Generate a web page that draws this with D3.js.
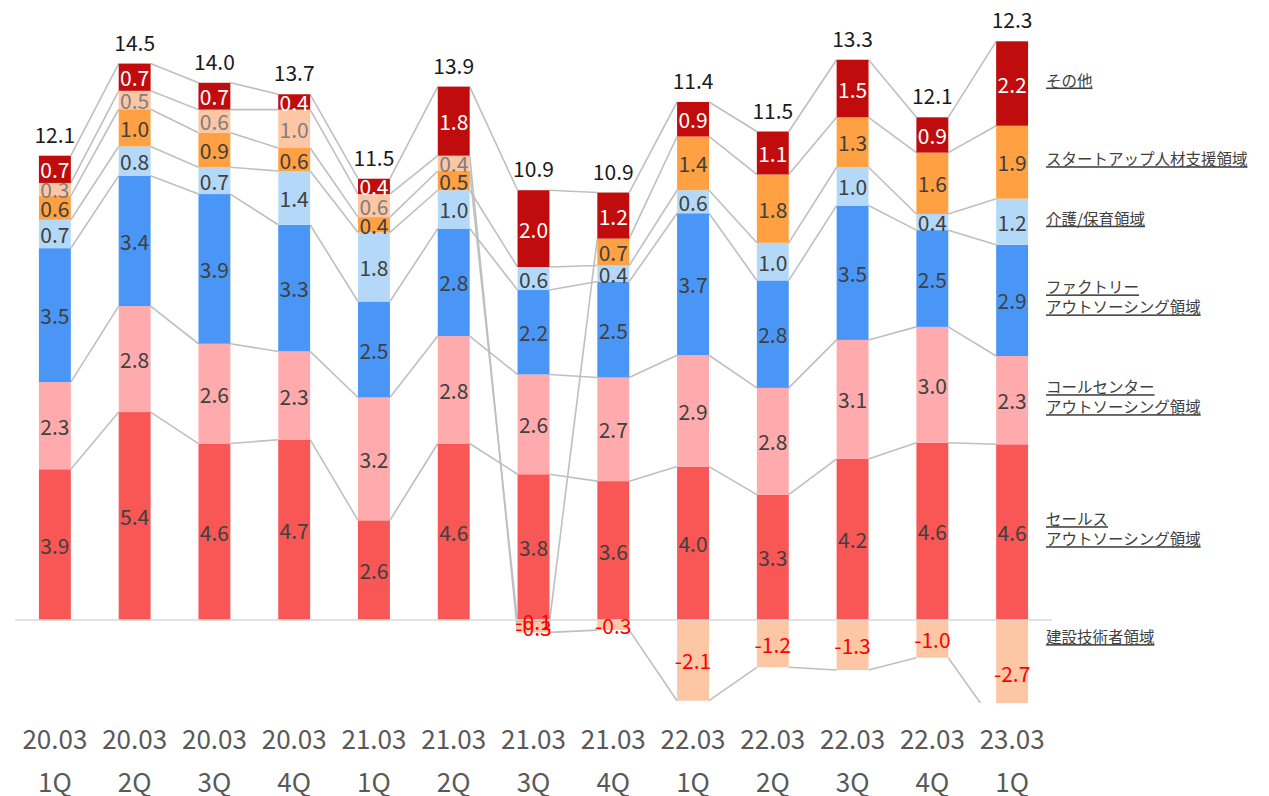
<!DOCTYPE html>
<html>
<head>
<meta charset="utf-8">
<script src="https://cdn.jsdelivr.net/npm/d3@7"></script>
<style>
  body { margin: 0; background: #fff; }
  text { font-family: "Noto Sans CJK JP", "Noto Sans", sans-serif; }
</style>
</head>
<body>
<svg width="1269" height="796"></svg>
<script>
// Periods and quarters (x axis, two lines)
var periods  = ["20.03","20.03","20.03","20.03","21.03","21.03","21.03","21.03","22.03","22.03","22.03","22.03","23.03"];
var quarters = ["1Q","2Q","3Q","4Q","1Q","2Q","3Q","4Q","1Q","2Q","3Q","4Q","1Q"];

// Series values (bottom to top of the stack)
var sales        = [3.93, 5.42, 4.6, 4.7, 2.6, 4.6, 3.8, 3.62, 4.0, 3.27, 4.2, 4.62, 4.58];
var callCenter   = [2.27, 2.76, 2.6, 2.3, 3.2, 2.8, 2.6, 2.7, 2.9, 2.78, 3.1, 3.02, 2.3];
var factory      = [3.49, 3.40, 3.9, 3.3, 2.5, 2.8, 2.2, 2.5, 3.7, 2.8, 3.5, 2.52, 2.9];
var care         = [0.74, 0.76, 0.7, 1.4, 1.8, 1.0, 0.6, 0.42, 0.6, 0.98, 1.0, 0.42, 1.2];
var startup      = [0.62, 0.97, 0.9, 0.6, 0.4, 0.5, -0.06, 0.7, 1.4, 1.78, 1.3, 1.6, 1.9];
var construction = [0.34, 0.48, 0.6, 1.0, 0.6, 0.4, -0.26, -0.26, -2.1, -1.23, -1.3, -0.98, -2.74];
var other        = [0.71, 0.71, 0.7, 0.4, 0.4, 1.8, 2.0, 1.2, 0.9, 1.12, 1.5, 0.92, 2.2];

var keys = ["sales","callCenter","factory","care","startup","construction","other"];
var seriesNames = {
  sales: ["セールス","アウトソーシング領域"],
  callCenter: ["コールセンター","アウトソーシング領域"],
  factory: ["ファクトリー","アウトソーシング領域"],
  care: ["介護/保育領域"],
  startup: ["スタートアップ人材支援領域"],
  construction: ["建設技術者領域"],
  other: ["その他"]
};
var colors = {
  sales: "#F95656", callCenter: "#FFABAE", factory: "#4A96F7", care: "#B4D9F8",
  startup: "#FFA142", construction: "#FDC6A4", other: "#C00C0C"
};
var labelColors = {
  sales: "#404040", callCenter: "#404040", factory: "#404040", care: "#404040",
  startup: "#404040", construction: "#7F7F7F", other: "#FFFFFF"
};

var svg = d3.select("svg");
var values = {sales: sales, callCenter: callCenter, factory: factory, care: care,
              startup: startup, construction: construction, other: other};

// build the table d3.stack wants
var table = periods.map(function(p, i) {
  var row = {cat: p + " " + quarters[i], period: p, quarter: quarters[i]};
  keys.forEach(function(k) { row[k] = values[k][i]; });
  return row;
});

var x = d3.scaleBand()
    .domain(table.map(function(d) { return d.cat; }))
    .range([15, 1052])
    .paddingInner(0.6)
    .paddingOuter(0.3);

var y = d3.scaleLinear().domain([-2.16, 16]).range([703, 6]);

var stacked = d3.stack().keys(keys).offset(d3.stackOffsetDiverging)(table);

// end of a segment = its outer edge (top for positive, bottom for negative)
function segEnd(d, key) { return d.data[key] >= 0 ? d[1] : d[0]; }

svg.append("defs").append("clipPath").attr("id", "plot")
  .append("rect").attr("x", 0).attr("y", 0).attr("width", 1269).attr("height", y(-2.16));

var plot = svg.append("g").attr("clip-path", "url(#plot)");

// zero line
svg.append("line")
    .attr("x1", 15).attr("x2", 1052)
    .attr("y1", y(0)).attr("y2", y(0))
    .attr("stroke", "#D9D9D9").attr("stroke-width", 1.5);

// series lines between neighbouring bars
stacked.forEach(function(s) {
  var segs = d3.pairs(s);
  plot.selectAll(null).data(segs).enter().append("line")
      .attr("x1", function(p) { return x(p[0].data.cat) + x.bandwidth(); })
      .attr("y1", function(p) { return y(segEnd(p[0], s.key)); })
      .attr("x2", function(p) { return x(p[1].data.cat); })
      .attr("y2", function(p) { return y(segEnd(p[1], s.key)); })
      .attr("stroke", "#BFBFBF")
      .attr("stroke-width", 1.6);
});

// bars
plot.selectAll(".series").data(stacked).enter().append("g")
    .attr("fill", function(s) { return colors[s.key]; })
  .selectAll("rect").data(function(s) { return s; }).enter().append("rect")
    .attr("x", function(d) { return x(d.data.cat); })
    .attr("width", x.bandwidth())
    .attr("y", function(d) { return y(Math.max(d[0], d[1])); })
    .attr("height", function(d) { return Math.abs(y(d[0]) - y(d[1])); });

// segment labels
stacked.forEach(function(s) {
  svg.selectAll(null).data(s).enter().append("text")
      .attr("x", function(d) { return x(d.data.cat) + x.bandwidth() / 2; })
      .attr("y", function(d) { return y((d[0] + d[1]) / 2); })
      .attr("text-anchor", "middle")
      .attr("dominant-baseline", "central")
      .attr("font-size", 21)
      .attr("fill", function(d) { return d.data[s.key] < 0 ? "#FF0000" : labelColors[s.key]; })
      .text(function(d) { return d.data[s.key].toFixed(1); });
});

// totals above the positive stack
svg.selectAll(".total").data(table).enter().append("text")
    .attr("x", function(d) { return x(d.cat) + x.bandwidth() / 2; })
    .attr("y", function(d, i) {
      var top = d3.max(stacked, function(s) { return s[i][1]; });
      return y(top) - 22;
    })
    .attr("text-anchor", "middle")
    .attr("dominant-baseline", "central")
    .attr("font-size", 21)
    .attr("fill", "#1A1A1A")
    .text(function(d) { return d3.sum(keys, function(k) { return d[k]; }).toFixed(1); });

// x axis labels (two lines)
var xl = svg.selectAll(".xl").data(table).enter().append("g")
    .attr("transform", function(d) { return "translate(" + (x(d.cat) + x.bandwidth() / 2) + ",0)"; });
xl.append("text").attr("y", 737).text(function(d) { return d.period; });
xl.append("text").attr("y", 780).text(function(d) { return d.quarter; });
xl.selectAll("text")
    .attr("text-anchor", "middle")
    .attr("dominant-baseline", "central")
    .attr("font-size", 26)
    .attr("fill", "#595959");

// series names next to the last bar
var last = table.length - 1;
stacked.forEach(function(s) {
  var d = s[last];
  var mid = d.data[s.key] < 0 ? y(0) + 20 : (y(d[0]) + y(d[1])) / 2;
  var lines = seriesNames[s.key];
  var g = svg.append("g");
  lines.forEach(function(t, j) {
    g.append("text")
        .attr("x", 1046)
        .attr("y", mid - 4 + (j - (lines.length - 1) / 2) * 20)
        .attr("dominant-baseline", "central")
        .attr("font-size", 15.5)
        .attr("fill", "#404040")
        .style("text-decoration", "underline")
        .text(t);
  });
});
</script>
</body>
</html>
